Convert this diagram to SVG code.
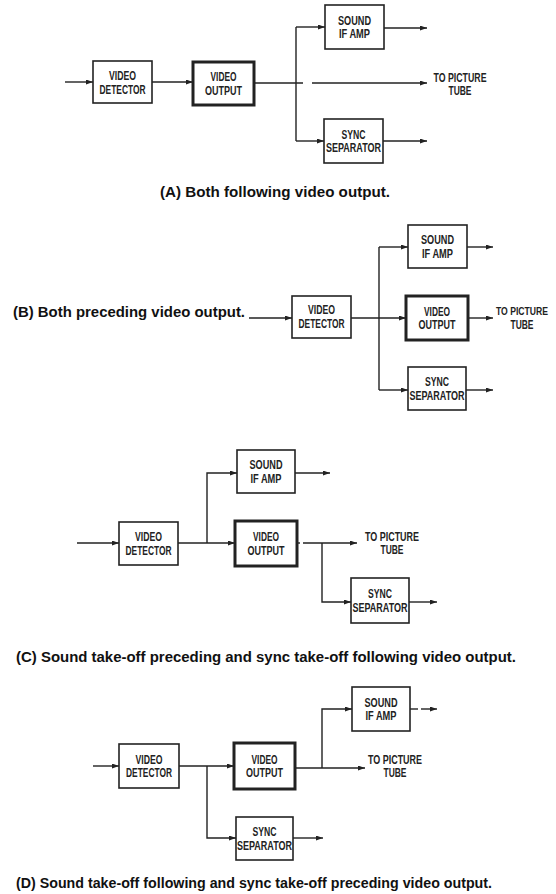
<svg xmlns="http://www.w3.org/2000/svg" width="556" height="894" viewBox="0 0 556 894">
<style>
.box{fill:#fff;stroke:#222;stroke-width:1.6}
.thick{fill:#fff;stroke:#222;stroke-width:3}
.lbl{font-family:"Liberation Sans",Arial,sans-serif;font-weight:bold;font-size:12.5px;text-anchor:middle;fill:#222}
.cap{font-family:"Liberation Sans",Arial,sans-serif;font-weight:bold;font-size:14.5px;fill:#111}
.ln{fill:none;stroke:#222;stroke-width:1.4}
.ar{fill:none;stroke:#222;stroke-width:1.4;marker-end:url(#ah)}
</style>
<defs>
<marker id="ah" markerUnits="userSpaceOnUse" markerWidth="8" markerHeight="6" refX="7" refY="2.5" orient="auto">
<path d="M0,0 L7,2.5 L0,5 z" fill="#222"/>
</marker>
</defs>
<rect width="556" height="894" fill="#fff"/>

<g id="connectors">
<!-- A -->
<path class="ar" d="M65,82 H93"/>
<path class="ar" d="M152,82 H193"/>
<path class="ln" d="M254,83 H303"/>
<path class="ar" d="M312,83 H427"/>
<path class="ln" d="M296,27 V141"/>
<path class="ar" d="M296,27 H325"/>
<path class="ar" d="M296,141 H324"/>
<path class="ar" d="M384,28 H427"/>
<path class="ar" d="M383,141 H427"/>
<!-- B -->
<path class="ar" d="M249,318 H292"/>
<path class="ar" d="M351,318 H406"/>
<path class="ln" d="M379,247 V390"/>
<path class="ar" d="M379,247 H408"/>
<path class="ar" d="M379,390 H408"/>
<path class="ar" d="M467,247 H493"/>
<path class="ar" d="M468,318 H493"/>
<path class="ar" d="M466,390 H493"/>
<!-- C -->
<path class="ar" d="M77,543 H119"/>
<path class="ar" d="M178,543 H235"/>
<path class="ar" d="M207,543 V473 H237"/>
<path class="ar" d="M295,473 H330"/>
<path class="ln" d="M297,543 H300"/>
<path class="ar" d="M303,543 H357"/>
<path class="ar" d="M322,543 V602 H351"/>
<path class="ar" d="M409,602 H437"/>
<!-- D -->
<path class="ar" d="M93,766 H119"/>
<path class="ar" d="M179,766 H234"/>
<path class="ar" d="M207,766 V838 H236"/>
<path class="ar" d="M295,768 H365"/>
<path class="ar" d="M322,768 V709 H352"/>
<path class="ln" d="M410,709 H418"/>
<path class="ar" d="M421,709 H437"/>
<path class="ar" d="M293,838 H323"/>
</g>

<!-- Section A -->
<g id="a-detector"><rect class="box" x="93" y="61" width="59" height="42"/>
<text class="lbl" x="122.5" y="80" textLength="27" lengthAdjust="spacingAndGlyphs">VIDEO</text>
<text class="lbl" x="122.5" y="94" textLength="46" lengthAdjust="spacingAndGlyphs">DETECTOR</text></g>
<g id="a-output"><rect class="thick" x="193" y="62" width="61" height="43"/>
<text class="lbl" x="223.5" y="81" textLength="26" lengthAdjust="spacingAndGlyphs">VIDEO</text>
<text class="lbl" x="223.5" y="95" textLength="37" lengthAdjust="spacingAndGlyphs">OUTPUT</text></g>
<g id="a-sound"><rect class="box" x="325" y="5" width="59" height="44"/>
<text class="lbl" x="354.5" y="24.5" textLength="33" lengthAdjust="spacingAndGlyphs">SOUND</text>
<text class="lbl" x="354.5" y="38" textLength="31" lengthAdjust="spacingAndGlyphs">IF AMP</text></g>
<g id="a-sync"><rect class="box" x="324" y="119" width="59" height="44"/>
<text class="lbl" x="353.5" y="138.5" textLength="24" lengthAdjust="spacingAndGlyphs">SYNC</text>
<text class="lbl" x="353.5" y="152" textLength="55" lengthAdjust="spacingAndGlyphs">SEPARATOR</text></g>
<g id="a-tube">
<text class="lbl" x="460" y="81.5" textLength="53" lengthAdjust="spacingAndGlyphs">TO PICTURE</text>
<text class="lbl" x="460" y="95" textLength="23" lengthAdjust="spacingAndGlyphs">TUBE</text></g>
<text class="cap" x="160" y="197" textLength="230" lengthAdjust="spacingAndGlyphs">(A) Both following video output.</text>

<!-- Section B -->
<text class="cap" x="13" y="317" textLength="232" lengthAdjust="spacingAndGlyphs">(B) Both preceding video output.</text>
<g id="b-detector"><rect class="box" x="292" y="296" width="59" height="42"/>
<text class="lbl" x="321.5" y="314" textLength="27" lengthAdjust="spacingAndGlyphs">VIDEO</text>
<text class="lbl" x="321.5" y="328" textLength="46" lengthAdjust="spacingAndGlyphs">DETECTOR</text></g>
<g id="b-sound"><rect class="box" x="408" y="225" width="59" height="43"/>
<text class="lbl" x="437.5" y="244" textLength="33" lengthAdjust="spacingAndGlyphs">SOUND</text>
<text class="lbl" x="437.5" y="257.5" textLength="31" lengthAdjust="spacingAndGlyphs">IF AMP</text></g>
<g id="b-output"><rect class="thick" x="406" y="296" width="62" height="44"/>
<text class="lbl" x="437" y="315.5" textLength="26" lengthAdjust="spacingAndGlyphs">VIDEO</text>
<text class="lbl" x="437" y="329" textLength="37" lengthAdjust="spacingAndGlyphs">OUTPUT</text></g>
<g id="b-sync"><rect class="box" x="408" y="367" width="58" height="43"/>
<text class="lbl" x="437" y="386" textLength="24" lengthAdjust="spacingAndGlyphs">SYNC</text>
<text class="lbl" x="437" y="399.5" textLength="55" lengthAdjust="spacingAndGlyphs">SEPARATOR</text></g>
<g id="b-tube">
<text class="lbl" x="522" y="315" textLength="52" lengthAdjust="spacingAndGlyphs" style="font-size:11px">TO PICTURE</text>
<text class="lbl" x="522" y="329" textLength="23" lengthAdjust="spacingAndGlyphs">TUBE</text></g>

<!-- Section C -->
<g id="c-detector"><rect class="box" x="119" y="522" width="59" height="43"/>
<text class="lbl" x="148.5" y="541" textLength="27" lengthAdjust="spacingAndGlyphs">VIDEO</text>
<text class="lbl" x="148.5" y="554.5" textLength="46" lengthAdjust="spacingAndGlyphs">DETECTOR</text></g>
<g id="c-sound"><rect class="box" x="237" y="450" width="58" height="43"/>
<text class="lbl" x="266" y="469" textLength="33" lengthAdjust="spacingAndGlyphs">SOUND</text>
<text class="lbl" x="266" y="482.5" textLength="31" lengthAdjust="spacingAndGlyphs">IF AMP</text></g>
<g id="c-output"><rect class="thick" x="235" y="521" width="62" height="45"/>
<text class="lbl" x="266" y="541" textLength="26" lengthAdjust="spacingAndGlyphs">VIDEO</text>
<text class="lbl" x="266" y="554.5" textLength="37" lengthAdjust="spacingAndGlyphs">OUTPUT</text></g>
<g id="c-sync"><rect class="box" x="351" y="578" width="58" height="45"/>
<text class="lbl" x="380" y="598" textLength="24" lengthAdjust="spacingAndGlyphs">SYNC</text>
<text class="lbl" x="380" y="611.5" textLength="55" lengthAdjust="spacingAndGlyphs">SEPARATOR</text></g>
<g id="c-tube">
<text class="lbl" x="392" y="541" textLength="54" lengthAdjust="spacingAndGlyphs">TO PICTURE</text>
<text class="lbl" x="392" y="554" textLength="23" lengthAdjust="spacingAndGlyphs">TUBE</text></g>
<text class="cap" x="16" y="662" textLength="500" lengthAdjust="spacingAndGlyphs">(C) Sound take-off preceding and sync take-off following video output.</text>

<!-- Section D -->
<g id="d-detector"><rect class="box" x="119" y="744" width="60" height="44"/>
<text class="lbl" x="149" y="763.5" textLength="27" lengthAdjust="spacingAndGlyphs">VIDEO</text>
<text class="lbl" x="149" y="777" textLength="46" lengthAdjust="spacingAndGlyphs">DETECTOR</text></g>
<g id="d-output"><rect class="thick" x="234" y="743" width="61" height="46"/>
<text class="lbl" x="264.5" y="763.5" textLength="26" lengthAdjust="spacingAndGlyphs">VIDEO</text>
<text class="lbl" x="264.5" y="777" textLength="37" lengthAdjust="spacingAndGlyphs">OUTPUT</text></g>
<g id="d-sound"><rect class="box" x="352" y="687" width="58" height="44"/>
<text class="lbl" x="381" y="706.5" textLength="33" lengthAdjust="spacingAndGlyphs">SOUND</text>
<text class="lbl" x="381" y="720" textLength="31" lengthAdjust="spacingAndGlyphs">IF AMP</text></g>
<g id="d-sync"><rect class="box" x="236" y="817" width="57" height="43"/>
<text class="lbl" x="264.5" y="836" textLength="24" lengthAdjust="spacingAndGlyphs">SYNC</text>
<text class="lbl" x="264.5" y="849.5" textLength="55" lengthAdjust="spacingAndGlyphs">SEPARATOR</text></g>
<g id="d-tube">
<text class="lbl" x="395" y="764" textLength="54" lengthAdjust="spacingAndGlyphs">TO PICTURE</text>
<text class="lbl" x="395" y="777" textLength="23" lengthAdjust="spacingAndGlyphs">TUBE</text></g>
<text class="cap" x="16" y="888" textLength="476" lengthAdjust="spacingAndGlyphs">(D) Sound take-off following and sync take-off preceding video output.</text>
</svg>
